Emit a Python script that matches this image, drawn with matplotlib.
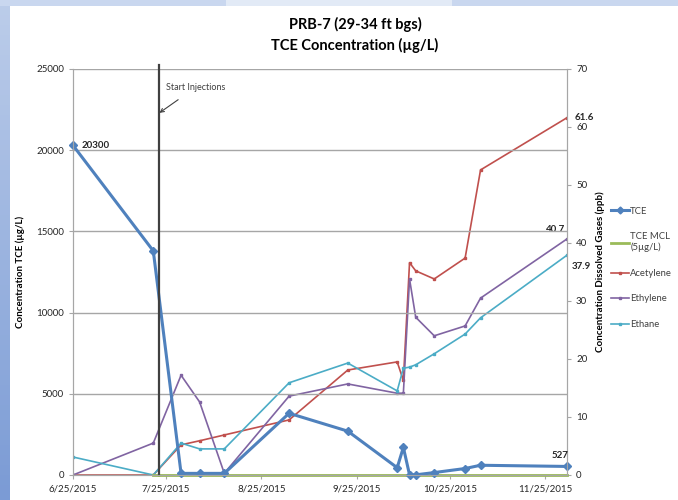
import matplotlib.pyplot as plt
import numpy as np
import pandas as pd
from matplotlib.lines import Line2D
from matplotlib.colors import LinearSegmentedColormap

plt.rcParams['font.family'] = ['Lato', 'DejaVu Sans']

# sample dates and values
dates = pd.to_datetime(['2015-06-25', '2015-07-21', '2015-07-30', '2015-08-05', '2015-08-13',
                        '2015-09-03', '2015-09-22', '2015-10-08', '2015-10-10', '2015-10-12',
                        '2015-10-14', '2015-10-20', '2015-10-30', '2015-11-04', '2015-12-02'])
tce = [20300, 13800, 100, 100, 100, 3800, 2700, 450, 1700, 10, 10, 150, 400, 600, 527]
acetylene = [0, 0, 5.2, 5.9, 6.9, 9.5, 18.1, 19.5, 16.3, 36.6, 35.2, 33.8, 37.4, 52.6, 61.6]
ethylene = [0, 5.5, 17.2, 12.6, 0.3, 13.6, 15.7, 14.1, 14.1, 33.8, 27.2, 24.0, 25.7, 30.5, 40.7]
ethane = [3.1, 0, 5.5, 4.5, 4.5, 15.9, 19.3, 14.5, 18.4, 18.6, 19.0, 20.9, 24.3, 27.1, 37.9]
mcl_dates = pd.to_datetime(['2015-07-21', '2015-12-02'])
mcl = [5, 5]
injection_date = pd.Timestamp('2015-07-23')

tick_dates = pd.to_datetime(['2015-06-25', '2015-07-25', '2015-08-25', '2015-09-25',
                             '2015-10-25', '2015-11-25'])
tick_labels = ['6/25/2015', '7/25/2015', '8/25/2015', '9/25/2015', '10/25/2015', '11/25/2015']

c_tce = '#4f81bd'
c_mcl = '#9bbb59'
c_ace = '#c0504d'
c_eth = '#8064a2'
c_ethn = '#4bacc6'
txt = '#262626'

fig = plt.figure(figsize=(6.78, 5.0), dpi=100)

# slide background strips
bg = fig.add_axes([0, 0, 10 / 678, 1])
grad = np.linspace(0, 1, 100).reshape(-1, 1)
cm = LinearSegmentedColormap.from_list('slide', ['#bccdea', '#7b9bd5'])
bg.imshow(grad, aspect='auto', cmap=cm, extent=[0, 1, 0, 1])
bg.axis('off')
top = fig.add_axes([0, 1 - 6 / 500, 1, 6 / 500])
top.imshow(np.array([[0.0, 0.5, 0.0]]), aspect='auto',
           cmap=LinearSegmentedColormap.from_list('t', ['#c9d7ef', '#e2eaf6']), extent=[0, 1, 0, 1])
top.axis('off')

ax = fig.add_axes([73 / 678, 1 - 475 / 500, (567 - 73) / 678, (475 - 69) / 500])
ax2 = ax.twinx()
ax.set_zorder(ax2.get_zorder() + 1)
ax.patch.set_visible(False)

ax.set_xlim(pd.Timestamp('2015-06-25'), pd.Timestamp('2015-12-02'))
ax.set_ylim(0, 25000)
ax2.set_ylim(0, 70)
ax.set_yticks(range(0, 25001, 5000))
ax2.set_yticks(range(0, 71, 10))
ax.set_xticks(tick_dates)
ax.set_xticklabels(tick_labels)

ax.grid(axis='y', color='#a6a6a6', lw=1)
ax.set_axisbelow(True)
for a in (ax, ax2):
    for s in a.spines.values():
        s.set_color('#a6a6a6')
    a.spines['top'].set_visible(False)
    a.tick_params(labelsize=7, colors=txt, length=3, width=0.8)
    a.tick_params(color='#a6a6a6')

# gases on right axis
ax2.plot(dates, acetylene, color=c_ace, lw=1.2, marker='s', ms=2)
ax2.plot(dates, ethylene, color=c_eth, lw=1.2, marker='s', ms=1.8)
ax2.plot(dates, ethane, color=c_ethn, lw=1.2, marker='s', ms=1.8)

ax.plot(mcl_dates, mcl, color=c_mcl, lw=2, clip_on=False)
ax.plot(dates, tce, color=c_tce, lw=2.2, marker='D', ms=4.5, clip_on=False)

ax.axvline(injection_date, color='#404040', lw=1.6, ymax=1.01, clip_on=False)
ax.annotate('Start Injections', xy=(injection_date, 22300), xytext=(pd.Timestamp('2015-07-25'), 23700),
            fontsize=6.5, color='#404040',
            arrowprops=dict(arrowstyle='->', color='#404040', lw=0.8, shrinkA=6, shrinkB=0))

# data labels
ax.annotate('20300', xy=(dates[0], tce[0]), xytext=(9, 0), textcoords='offset pixels',
            fontsize=7, fontweight='bold', color=txt, va='center', ha='left')
ax.annotate('527', xy=(dates[-1], tce[-1]), xytext=(-7, 11), textcoords='offset pixels',
            fontsize=7, fontweight='bold', color=txt, va='center', ha='center')
ax2.annotate('61.6', xy=(dates[-1], acetylene[-1]), xytext=(8, 0), textcoords='offset pixels',
             fontsize=7, fontweight='bold', color=txt, va='center', ha='left', annotation_clip=False)
ax2.annotate('40.7', xy=(dates[-1], ethylene[-1]), xytext=(-11, 9), textcoords='offset pixels',
             fontsize=7, fontweight='bold', color=txt, va='center', ha='center', annotation_clip=False)
ax2.annotate('37.9', xy=(dates[-1], ethane[-1]), xytext=(5, -11), textcoords='offset pixels',
             fontsize=7, fontweight='bold', color=txt, va='center', ha='left', annotation_clip=False)

ax.set_ylabel('Concentration TCE (\u00b5g/L)', fontsize=7, fontweight='bold', color='black', labelpad=8)
ax2.set_ylabel('Concentration Dissolved Gases (ppb)', fontsize=7, fontweight='bold', color='black',
               labelpad=6)

fig.text(355 / 678, 1 - 35 / 500, 'PRB-7 (29-34 ft bgs)\nTCE Concentration (\u00b5g/L)',
         ha='center', va='center', fontsize=10.5, fontweight='bold', color='black', linespacing=1.5)

handles = [Line2D([], [], color=c_tce, lw=2.2, marker='D', ms=3.5),
           Line2D([], [], color=c_mcl, lw=2),
           Line2D([], [], color=c_ace, lw=1.2, marker='s', ms=2),
           Line2D([], [], color=c_eth, lw=1.2, marker='s', ms=2),
           Line2D([], [], color=c_ethn, lw=1.2, marker='s', ms=2)]
labels = ['TCE', 'TCE MCL\n(5\u00b5g/L)', 'Acetylene', 'Ethylene', 'Ethane']
leg = fig.legend(handles, labels, loc='upper left', bbox_to_anchor=(607 / 678, 1 - 203 / 500),
                 frameon=False, fontsize=6.8, handlelength=1.9, handletextpad=0.15, labelspacing=1.75,
                 borderaxespad=0)
for t in leg.get_texts():
    t.set_color('#404040')

fig.savefig('out.png', dpi=100)
